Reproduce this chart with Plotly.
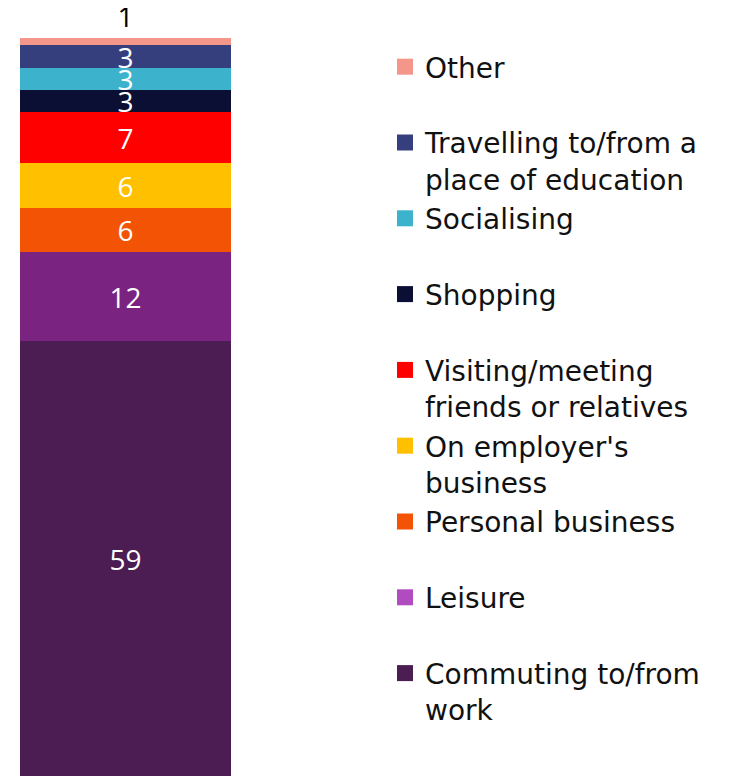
import plotly.graph_objects as go

# bottom of the stack first
purposes = ["Commuting to/from<br>work", "Leisure", "Personal business",
            "On employer's<br>business", "Visiting/meeting<br>friends or relatives",
            "Shopping", "Socialising", "Travelling to/from a<br>place of education", "Other"]
shares = [59, 12, 6, 6, 7, 3, 3, 3, 1]
bar_colours = ["#4B1D52", "#7A2380", "#F25305", "#FFC000", "#FF0000",
               "#0A0F33", "#3CB2CD", "#353F7E", "#F4978A"]
legend_colours = ["#4B1D52", "#B04CC0", "#F25305", "#FFC000", "#FF0000",
                  "#0A0F33", "#3CB2CD", "#353F7E", "#F4978A"]

fig = go.Figure()
n = len(purposes)
for i, (name, val, bc, lc) in enumerate(zip(purposes, shares, bar_colours, legend_colours)):
    top = i == n - 1
    fig.add_trace(go.Bar(
        x=["Trips"], y=[val], marker_color=bc, marker_line_width=0,
        text=[val], textposition="outside" if top else "inside",
        insidetextanchor="middle", textangle=0,
        textfont=dict(color="black" if top else "white", size=28, family="Open Sans"),
        showlegend=False, cliponaxis=False, hoverinfo="skip",
    ))
    # legend entry only (square swatch)
    label = name if "<br>" in name else name + "<br>&nbsp;"
    fig.add_trace(go.Scatter(
        x=[None], y=[None], mode="markers", name=label,
        marker=dict(symbol="square", size=16, color=lc),
        legendrank=n - i, showlegend=True,
    ))

# page body has an 8px margin, so offsets are trimmed to compensate
fig.update_layout(
    barmode="stack", bargap=0,
    width=737, height=776,
    margin=dict(l=12, r=514, t=30, b=8, autoexpand=False),
    plot_bgcolor="white", paper_bgcolor="white",
    xaxis=dict(visible=False),
    yaxis=dict(visible=False, range=[0, 100]),
    uniformtext=dict(minsize=28, mode="show"),
    legend=dict(
        xref="container", yref="container", x=377 / 737, y=1 - 34 / 776,
        xanchor="left", yanchor="top", traceorder="normal", valign="top",
        font=dict(family="DejaVu Sans", size=28, color="#111111"),
        tracegroupgap=0, itemwidth=30, maxheight=1,
    ),
)

fig.write_html("out.html")
